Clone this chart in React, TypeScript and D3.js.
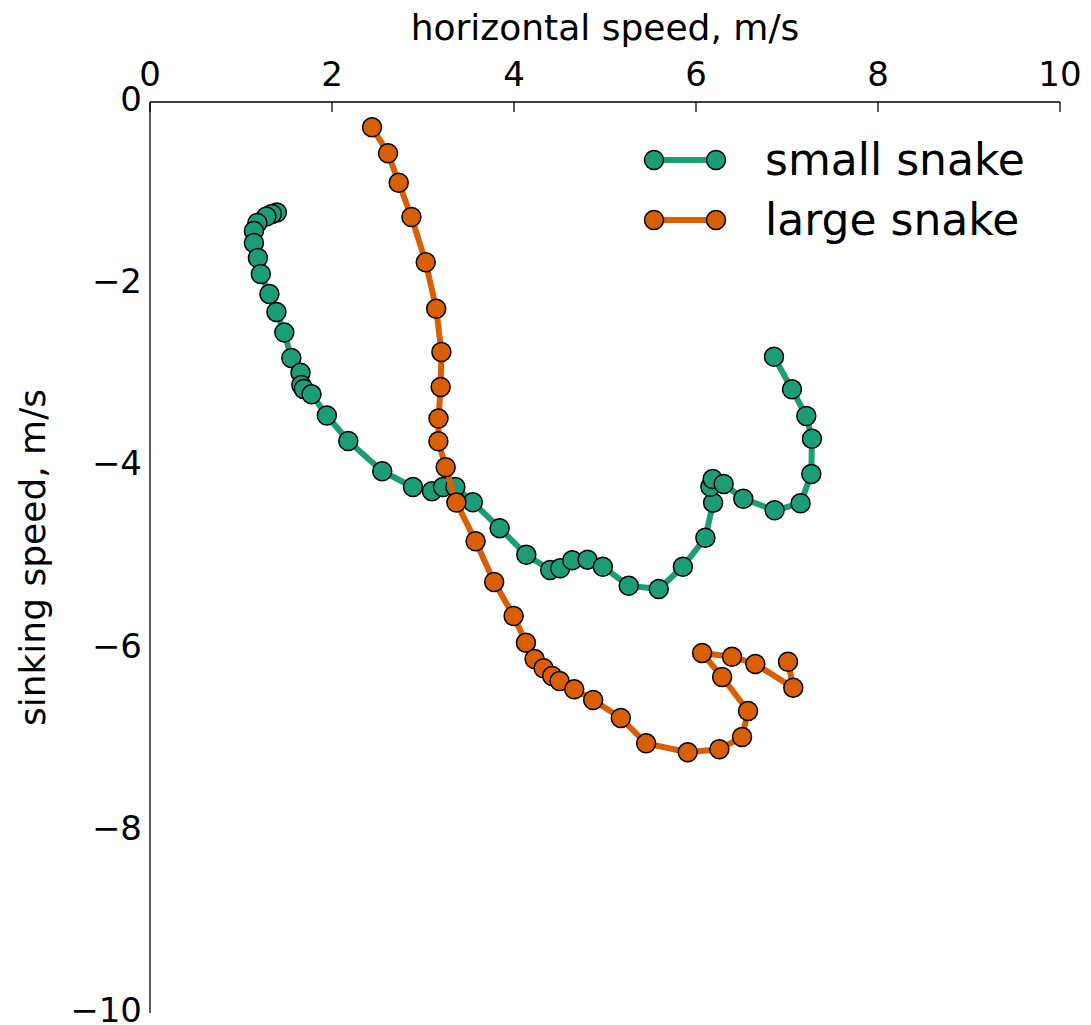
import React from "react";
import * as d3 from "d3";

const smallX = [1.394, 1.339, 1.279, 1.180, 1.142, 1.142, 1.186, 1.218, 1.312, 1.389, 1.476, 1.553, 1.654, 1.663, 1.690, 1.775, 1.943, 2.179, 2.552, 2.890, 3.098, 3.220, 3.356, 3.548, 3.842, 4.135, 4.398, 4.508, 4.640, 4.808, 4.976, 5.261, 5.591, 5.856, 6.103, 6.188, 6.158, 6.183, 6.304, 6.520, 6.864, 7.149, 7.267, 7.274, 7.212, 7.055, 6.857];
const smallY = [-1.213, -1.229, -1.257, -1.328, -1.416, -1.548, -1.712, -1.888, -2.108, -2.305, -2.530, -2.810, -2.971, -3.106, -3.150, -3.209, -3.441, -3.721, -4.053, -4.226, -4.272, -4.226, -4.226, -4.394, -4.678, -4.970, -5.137, -5.119, -5.031, -5.024, -5.101, -5.310, -5.346, -5.101, -4.783, -4.398, -4.223, -4.138, -4.193, -4.355, -4.482, -4.405, -4.083, -3.696, -3.447, -3.154, -2.796];

const largeX = [2.440, 2.616, 2.733, 2.873, 3.030, 3.145, 3.202, 3.194, 3.170, 3.169, 3.249, 3.367, 3.578, 3.782, 3.996, 4.131, 4.226, 4.325, 4.420, 4.501, 4.662, 4.870, 5.174, 5.452, 5.909, 6.257, 6.506, 6.572, 6.287, 6.067, 6.396, 6.652, 7.069, 7.011];
const largeY = [-0.278, -0.563, -0.886, -1.262, -1.760, -2.269, -2.744, -3.128, -3.474, -3.724, -4.010, -4.396, -4.821, -5.269, -5.642, -5.935, -6.114, -6.216, -6.301, -6.356, -6.447, -6.564, -6.762, -7.040, -7.138, -7.105, -6.970, -6.685, -6.312, -6.048, -6.089, -6.169, -6.429, -6.144];

const xTicks = [0, 2, 4, 6, 8, 10];
const yTicks = [0, -2, -4, -6, -8, -10];
const seriesNames = ["small snake", "large snake"];
const seriesColors = ["#1b9e77", "#d95f02"];

const W = 1091;
const H = 1025;
const left = 150;
const right = 1060;
const top = 102;
const bottom = 1013;
const font = "DejaVu Sans";

export default function App() {
  const x = d3.scaleLinear().domain([0, 10]).range([left, right]);
  const y = d3.scaleLinear().domain([0, -10]).range([top, bottom]);
  const series = [
    smallX.map((v, i) => [v, smallY[i]] as [number, number]),
    largeX.map((v, i) => [v, largeY[i]] as [number, number]),
  ];
  const line = d3
    .line<[number, number]>()
    .x((d) => x(d[0]))
    .y((d) => y(d[1]));
  const minus = (v: number) => (v < 0 ? "\u2212" + Math.abs(v) : String(v));

  return (
    <svg
      width={W}
      height={H}
      style={{ position: "absolute", left: 0, top: 0, background: "#fff" }}
      fontFamily={font}
    >
      {series.map((pts, si) => (
        <g key={si}>
          <path d={line(pts) || ""} fill="none" stroke={seriesColors[si]} strokeWidth={6} strokeLinejoin="round" />
          {pts.map((p, i) => (
            <circle key={i} cx={x(p[0])} cy={y(p[1])} r={9.5} fill={seriesColors[si]} stroke="#000" strokeWidth={1.5} />
          ))}
        </g>
      ))}

      <line x1={left} x2={right} y1={top} y2={top} stroke="#000" strokeWidth={1.3} />
      <line x1={left} x2={left} y1={top} y2={bottom} stroke="#000" strokeWidth={1.3} />

      {xTicks.map((t) => (
        <g key={t}>
          <line x1={x(t)} x2={x(t)} y1={top} y2={top + 10} stroke="#000" strokeWidth={1.3} />
          <text x={x(t)} y={86} fontSize={34} textAnchor="middle">
            {String(t)}
          </text>
        </g>
      ))}
      {yTicks.map((t) => (
        <text key={t} x={142} y={y(t) + 9} fontSize={34} textAnchor="end">
          {minus(t)}
        </text>
      ))}

      <text x={(left + right) / 2} y={40} fontSize={36} textAnchor="middle">
        horizontal speed, m/s
      </text>
      <text
        transform={`translate(${45}, ${(top + bottom) / 2}) rotate(-90)`}
        fontSize={36}
        textAnchor="middle"
      >
        sinking speed, m/s
      </text>

      {seriesNames.map((name, i) => {
        const ly = 160 + i * 60;
        return (
          <g key={name}>
            <line x1={654} x2={716} y1={ly} y2={ly} stroke={seriesColors[i]} strokeWidth={6} />
            <circle cx={654} cy={ly} r={9.5} fill={seriesColors[i]} stroke="#000" strokeWidth={1.5} />
            <circle cx={716} cy={ly} r={9.5} fill={seriesColors[i]} stroke="#000" strokeWidth={1.5} />
            <text x={765} y={ly + 15} fontSize={44}>
              {name}
            </text>
          </g>
        );
      })}
    </svg>
  );
}
